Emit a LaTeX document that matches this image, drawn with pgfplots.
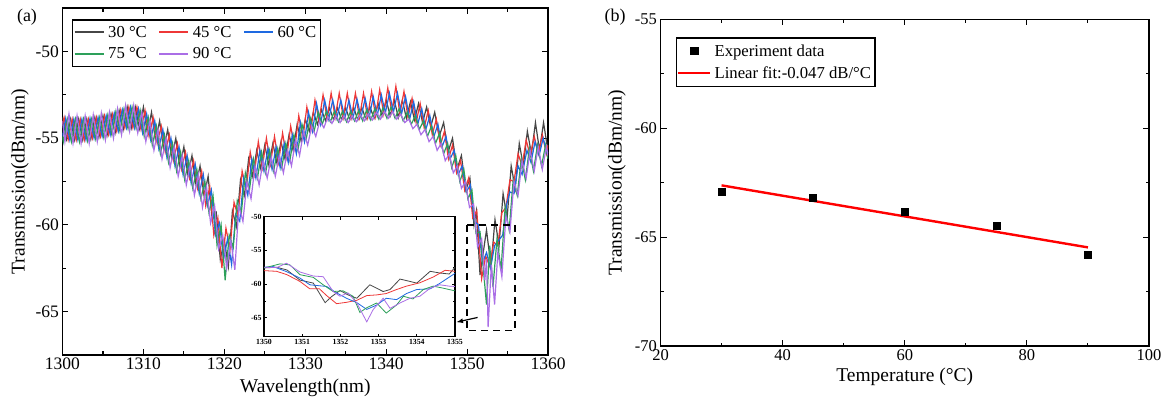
\documentclass[border=0pt]{standalone}
\usepackage{fontspec}
\setmainfont{Liberation Serif}
\usepackage{pgfplots}
\pgfplotsset{compat=1.18}
\definecolor{cgray}{RGB}{70,70,70}
\definecolor{cred}{RGB}{238,55,55}
\definecolor{cblue}{RGB}{30,105,225}
\definecolor{cgreen}{RGB}{45,160,90}
\definecolor{cpurple}{RGB}{170,110,230}
\begin{document}
\begin{tikzpicture}
\useasboundingbox (0pt,0pt) rectangle (1164pt,399pt);
\pgfplotsset{every axis/.append style={
  scale only axis,
  axis line style={line width=1.6pt},
  tick align=inside,
  tick style={line width=1.1pt, black},
  major tick length=6pt, minor tick length=3.5pt,
  /pgf/number format/assume math mode=true,
  /pgf/number format/1000 sep={},
}}
\node[font=\fontsize{18}{21}\selectfont] at (27pt,382pt) {(a)};
\node[font=\fontsize{18}{21}\selectfont] at (615pt,382pt) {(b)};
% ---------------- panel (a)
\begin{scope}[shift={(62.5pt,44.3pt)}]
\begin{axis}[at={(0pt,0pt)}, anchor=south west, width=485.5pt, height=346.4pt,
  xmin=1300, xmax=1360, ymin=-67.5, ymax=-47.5,
  xtick={1300,1310,...,1360}, minor x tick num=1,
  ytick={-65,-60,-55,-50}, minor y tick num=1,
  ticklabel style={font=\fontsize{17.5}{20}\selectfont},
  xlabel={Wavelength(nm)}, ylabel={Transmission(dBm/nm)},
  label style={font=\fontsize{19.5}{23}\selectfont},
  xlabel style={at={(axis description cs:0.5,-0.0953)}, anchor=center},
  ylabel style={at={(axis description cs:-0.0875,0.5)}, anchor=center},
  legend columns=3,
  legend cell align=left,
  legend image code/.code={\draw[#1, line width=2pt] (0pt,0pt) -- (29pt,0pt);},
  legend style={at={(axis description cs:0.0196,0.968)}, anchor=north west,
    draw=black, line width=1.3pt, inner xsep=1pt, inner ysep=1.5pt,
    font=\fontsize{16.7}{20}\selectfont,
    nodes={inner xsep=3.5pt, inner ysep=4.5pt},
    /tikz/every even column/.append style={column sep=8pt}},
]
\addplot[cgray, line width=1.2pt] table {
1300 -53.8
1300.5 -55.05
1301 -53.9
1301.5 -55.1
1302 -53.9
1302.5 -55.1
1303 -53.9
1303.5 -55.05
1304 -53.8
1304.5 -54.95
1305 -53.7
1305.5 -54.85
1306 -53.6
1306.5 -54.7
1307 -53.4
1307.5 -54.5
1308 -53.2
1308.5 -54.4
1309 -53.2
1309.5 -54.45
1310 -53.2
1310.5 -54.75
1311 -53.5
1311.5 -55.15
1312 -54.0
1312.5 -55.65
1313 -54.5
1313.5 -56.15
1314 -55.0
1314.5 -56.65
1315 -55.5
1315.5 -57.15
1316 -56.0
1316.5 -57.7
1317 -56.6
1317.5 -58.35
1318 -57.2
1318.5 -59.7
1319 -59.3
1319.5 -62.0
1320 -60.9
1320.5 -62.4
1321 -59.2
1321.5 -60.1
1322 -57.4
1322.5 -58.3
1323 -56.2
1323.5 -57.2
1324 -55.7
1324.5 -56.75
1325 -55.4
1325.5 -56.55
1326 -55.3
1326.5 -56.45
1327 -55.2
1327.5 -56.2
1328 -54.8
1328.5 -55.7
1329 -54.2
1329.5 -55.2
1330 -53.9
1330.5 -54.6
1331 -53.5
1331.5 -54.2
1332 -53.35
1332.5 -54.0
1333 -53.25
1333.5 -53.95
1334 -53.25
1334.5 -53.95
1335 -53.25
1335.5 -53.95
1336 -53.25
1336.5 -53.95
1337 -53.25
1337.5 -53.9
1338 -53.2
1338.5 -53.85
1339 -53.0
1339.5 -53.7
1340 -52.8
1340.5 -53.7
1341 -52.8
1341.5 -53.8
1342 -52.8
1342.5 -53.85
1343 -52.9
1343.5 -53.95
1344 -53.0
1344.5 -54.1
1345 -53.2
1345.5 -54.35
1346 -53.5
1346.55 -54.9
1347.1 -54.1
1347.65 -55.8
1348.2 -55.0
1348.75 -56.8
1349.3 -56.0
1349.85 -58.0
1350.35 -57.3
1350.85 -60.0
1351.15 -59.2
1351.6 -62.9
1352.4 -60.3
1352.95 -62.4
1353.45 -59.7
1353.95 -61.2
1354.45 -58.2
1354.95 -59.6
1355.45 -56.6
1355.95 -57.9
1356.45 -55.3
1356.95 -56.6
1357.45 -54.6
1357.95 -55.9
1358.45 -54.1
1358.95 -55.7
1359.45 -54.1
1359.95 -55.6
1360 -55.4
};
\addlegendentry{30 °C}
\addplot[cred, line width=1.2pt] table {
1300 -54.2
1300.2 -53.8
1300.7 -55.1
1301.2 -53.9
1301.7 -55.1
1302.2 -53.9
1302.7 -55.1
1303.2 -53.9
1303.7 -55.0
1304.2 -53.8
1304.7 -54.9
1305.2 -53.7
1305.7 -54.8
1306.2 -53.6
1306.7 -54.6
1307.2 -53.35
1307.7 -54.4
1308.2 -53.2
1308.7 -54.4
1309.2 -53.2
1309.7 -54.5
1310.2 -53.4
1310.7 -54.9
1311.2 -53.8
1311.7 -55.3
1312.2 -54.3
1312.7 -55.8
1313.2 -54.8
1313.7 -56.3
1314.2 -55.3
1314.7 -56.8
1315.2 -55.8
1315.7 -57.3
1316.2 -56.3
1316.7 -57.9
1317.2 -56.9
1317.7 -58.9
1318.2 -57.8
1318.7 -60.6
1319.2 -59.6
1319.7 -62.5
1320.2 -60.2
1320.7 -61.4
1321.2 -58.7
1321.7 -59.5
1322.2 -56.9
1322.7 -58.0
1323.2 -55.8
1323.7 -57.1
1324.2 -55.2
1324.7 -56.7
1325.2 -55.0
1325.7 -56.5
1326.2 -54.9
1326.7 -56.4
1327.2 -54.7
1327.7 -56.1
1328.2 -54.3
1328.7 -55.6
1329.2 -53.7
1329.7 -55.0
1330.2 -53.2
1330.7 -54.5
1331.2 -52.8
1331.7 -54.0
1332.2 -52.5
1332.7 -53.85
1333.2 -52.4
1333.7 -53.8
1334.2 -52.4
1334.7 -53.8
1335.2 -52.4
1335.7 -53.8
1336.2 -52.4
1336.7 -53.8
1337.2 -52.4
1337.7 -53.8
1338.2 -52.3
1338.7 -53.75
1339.2 -52.2
1339.7 -53.6
1340.2 -52.1
1340.7 -53.5
1341.2 -52.0
1341.7 -53.6
1342.2 -52.3
1342.7 -53.8
1343.2 -52.7
1343.7 -54.1
1344.2 -53.0
1344.7 -54.4
1345.2 -53.4
1345.7 -54.8
1346.2 -53.9
1346.7 -55.4
1347.2 -54.6
1347.7 -56.2
1348.2 -55.4
1348.7 -57.0
1349.2 -56.3
1349.7 -58.0
1350.2 -57.3
1350.7 -59.6
1351.2 -59.2
1351.8 -63.1
1352.3 -61.8
1352.8 -62.4
1353.3 -61.0
1353.8 -61.2
1354.3 -59.3
1354.8 -59.0
1355.3 -57.4
1355.8 -57.5
1356.3 -55.9
1356.8 -56.6
1357.3 -55.1
1357.8 -56.0
1358.3 -54.9
1358.8 -55.9
1359.3 -54.8
1359.8 -55.9
1360 -55.4
};
\addlegendentry{45 °C}
\addplot[cblue, line width=1.2pt] table {
1300 -54.9
1300.4 -53.85
1300.9 -55.1
1301.4 -53.9
1301.9 -55.1
1302.4 -53.9
1302.9 -55.1
1303.4 -53.85
1303.9 -55.0
1304.4 -53.8
1304.9 -54.9
1305.4 -53.7
1305.9 -54.8
1306.4 -53.55
1306.9 -54.6
1307.4 -53.35
1307.9 -54.4
1308.4 -53.2
1308.9 -54.4
1309.4 -53.3
1309.9 -54.7
1310.4 -53.6
1310.9 -55.1
1311.4 -54.0
1311.9 -55.6
1312.4 -54.5
1312.9 -56.1
1313.4 -55.0
1313.9 -56.6
1314.4 -55.5
1314.9 -57.1
1315.4 -56.0
1315.9 -57.6
1316.4 -56.5
1316.9 -58.2
1317.4 -57.1
1317.9 -58.9
1318.4 -58.0
1318.9 -60.6
1319.4 -59.9
1319.9 -62.0
1320.4 -60.8
1320.9 -62.3
1321.4 -59.4
1321.9 -59.8
1322.4 -57.3
1322.9 -58.3
1323.4 -56.2
1323.9 -57.3
1324.4 -55.7
1324.9 -56.9
1325.4 -55.6
1325.9 -56.8
1326.4 -55.5
1326.9 -56.7
1327.4 -55.3
1327.9 -56.4
1328.4 -54.8
1328.9 -55.9
1329.4 -54.1
1329.9 -55.2
1330.4 -53.5
1330.9 -54.6
1331.4 -53.0
1331.9 -54.2
1332.4 -52.8
1332.9 -53.9
1333.4 -52.8
1333.9 -53.85
1334.4 -52.8
1334.9 -53.85
1335.4 -52.8
1335.9 -53.85
1336.4 -52.75
1336.9 -53.8
1337.4 -52.7
1337.9 -53.8
1338.4 -52.6
1338.9 -53.7
1339.4 -52.5
1339.9 -53.55
1340.4 -52.4
1340.9 -53.5
1341.4 -52.4
1341.9 -53.6
1342.4 -52.6
1342.9 -53.9
1343.4 -52.9
1343.9 -54.2
1344.4 -53.3
1344.9 -54.5
1345.4 -53.7
1345.9 -54.9
1346.4 -54.2
1346.9 -55.5
1347.4 -54.9
1347.9 -56.2
1348.4 -55.7
1348.9 -57.1
1349.4 -56.6
1349.9 -58.1
1350.4 -57.7
1350.9 -59.8
1351.4 -60.0
1351.9 -62.2
1352.4 -61.6
1352.9 -62.5
1353.4 -61.2
1353.9 -60.9
1354.4 -60.6
1354.9 -58.8
1355.3 -58.1
1355.8 -58.2
1356.3 -56.6
1356.8 -57.1
1357.4 -55.7
1357.9 -56.4
1358.4 -55.2
1358.9 -56.0
1359.4 -55.0
1359.9 -55.9
1360 -55.7
};
\addlegendentry{60 °C}
\addplot[cgreen, line width=1.2pt] table {
1300 -54.9
1300.1 -55.2
1300.6 -53.9
1301.1 -55.2
1301.6 -53.9
1302.1 -55.2
1302.6 -53.9
1303.1 -55.15
1303.6 -53.9
1304.1 -55.05
1304.6 -53.8
1305.1 -54.95
1305.6 -53.65
1306.1 -54.8
1306.6 -53.45
1307.1 -54.6
1307.6 -53.3
1308.1 -54.45
1308.6 -53.2
1309.1 -54.45
1309.6 -53.4
1310.1 -54.9
1310.6 -53.8
1311.1 -55.4
1311.6 -54.3
1312.1 -55.9
1312.6 -54.8
1313.1 -56.4
1313.6 -55.3
1314.1 -56.9
1314.6 -55.8
1315.1 -57.4
1315.6 -56.3
1316.1 -57.9
1316.6 -56.8
1317.1 -58.5
1317.6 -57.5
1318.1 -59.3
1318.6 -58.3
1319.1 -61.2
1319.6 -60.0
1320.1 -63.2
1320.6 -60.6
1321.1 -61.3
1321.6 -58.6
1322.1 -59.3
1322.6 -57.0
1323.1 -58.0
1323.6 -56.2
1324.1 -57.3
1324.6 -55.8
1325.1 -57.0
1325.6 -55.7
1326.1 -56.9
1326.6 -55.6
1327.1 -56.7
1327.6 -55.3
1328.1 -56.3
1328.6 -54.8
1329.1 -55.7
1329.6 -54.2
1330.1 -55.1
1330.6 -53.8
1331.1 -54.6
1331.6 -53.5
1332.1 -54.2
1332.6 -53.45
1333.1 -54.05
1333.6 -53.45
1334.1 -54.05
1334.6 -53.45
1335.1 -54.05
1335.6 -53.45
1336.1 -54.0
1336.6 -53.4
1337.1 -54.0
1337.6 -53.35
1338.1 -53.95
1338.6 -53.3
1339.1 -53.9
1339.6 -53.25
1340.1 -53.85
1340.6 -53.2
1341.1 -53.85
1341.6 -53.3
1342.1 -54.0
1342.6 -53.5
1343.1 -54.2
1343.6 -53.7
1344.1 -54.5
1344.6 -54.0
1345.1 -54.9
1345.6 -54.3
1346.1 -55.3
1346.6 -54.7
1347.1 -55.9
1347.6 -55.3
1348.1 -56.7
1348.6 -56.0
1349.1 -57.5
1349.6 -56.8
1350.1 -58.5
1350.6 -58.0
1351.1 -60.5
1351.6 -60.4
1352.4 -64.6
1352.8 -61.2
1353.2 -63.6
1353.7 -60.8
1354.2 -62.6
1354.7 -59.0
1355.2 -60.3
1355.7 -57.4
1356.2 -58.3
1356.7 -56.2
1357.2 -57.4
1357.7 -55.6
1358.2 -56.9
1358.7 -55.4
1359.2 -56.6
1359.7 -55.4
1360 -56.2
};
\addlegendentry{75 °C}
\addplot[cpurple, line width=1.2pt] table {
1300 -54.0
1300.3 -55.2
1300.8 -53.6
1301.3 -55.3
1301.8 -53.7
1302.3 -55.3
1302.8 -53.7
1303.3 -55.3
1303.8 -53.65
1304.3 -55.2
1304.8 -53.55
1305.3 -55.1
1305.8 -53.5
1306.3 -55.0
1306.8 -53.3
1307.3 -54.8
1307.8 -53.1
1308.3 -54.6
1308.8 -53.1
1309.3 -54.7
1309.8 -53.5
1310.3 -55.2
1310.8 -54.0
1311.3 -55.7
1311.8 -54.5
1312.3 -56.2
1312.8 -55.0
1313.3 -56.7
1313.8 -55.5
1314.3 -57.2
1314.8 -56.0
1315.3 -57.7
1315.8 -56.5
1316.3 -58.3
1316.8 -57.1
1317.3 -59.0
1317.8 -57.8
1318.3 -59.9
1318.8 -58.9
1319.3 -61.4
1319.8 -60.6
1320.3 -62.5
1320.8 -60.9
1321.3 -62.6
1321.8 -58.9
1322.3 -59.8
1322.8 -57.5
1323.3 -58.5
1323.8 -56.6
1324.3 -57.7
1324.8 -56.3
1325.3 -57.3
1325.8 -56.1
1326.3 -57.2
1326.8 -56.0
1327.3 -57.0
1327.8 -55.7
1328.3 -56.6
1328.8 -55.1
1329.3 -56.0
1329.8 -54.6
1330.3 -55.4
1330.8 -54.3
1331.3 -54.9
1331.8 -54.0
1332.3 -54.4
1332.8 -53.75
1333.3 -54.15
1333.8 -53.7
1334.3 -54.1
1334.8 -53.7
1335.3 -54.1
1335.8 -53.7
1336.3 -54.05
1336.8 -53.65
1337.3 -54.0
1337.8 -53.6
1338.3 -53.95
1338.8 -53.5
1339.3 -53.9
1339.8 -53.45
1340.3 -53.85
1340.8 -53.45
1341.3 -53.9
1341.8 -53.6
1342.3 -54.1
1342.8 -53.9
1343.3 -54.45
1343.8 -54.2
1344.3 -54.8
1344.8 -54.5
1345.3 -55.2
1345.8 -54.9
1346.3 -55.7
1346.8 -55.3
1347.3 -56.3
1347.8 -55.9
1348.3 -57.0
1348.8 -56.6
1349.3 -57.9
1349.8 -57.5
1350.3 -59.0
1350.8 -58.8
1351.3 -61.3
1351.8 -60.8
1352.2 -63.2
1352.4 -62.0
1352.6 -65.9
1353.0 -62.3
1353.4 -64.6
1353.8 -61.6
1354.3 -63.0
1354.8 -59.5
1355.3 -60.4
1355.8 -57.5
1356.3 -58.3
1356.8 -56.3
1357.3 -57.3
1357.8 -55.7
1358.3 -56.9
1358.8 -55.5
1359.3 -56.8
1359.8 -55.5
1360 -56.0
};
\addlegendentry{90 °C}
\draw[black, line width=1.5pt, dash pattern=on 7pt off 5pt] (axis cs:1350,-60) rectangle (axis cs:1355.9,-66.1);
\coordinate (arrS) at (axis cs:1351.3,-65.35);
\coordinate (arrE) at (axis cs:1348.7,-65.62);
\end{axis}
\end{scope}
% ---------------- inset
\begin{scope}[shift={(264pt,62.3pt)}]
\begin{axis}[at={(0pt,0pt)}, anchor=south west, width=191pt, height=120pt,
  axis background/.style={fill=white},
  axis line style={line width=1.3pt},
  major tick length=3pt, minor tick length=2pt,
  tick style={line width=0.8pt},
  xmin=1350, xmax=1355, ymin=-67.8, ymax=-50,
  xtick={1350,1351,...,1355},
  ytick={-65,-60,-55,-50}, minor y tick num=1,
  ticklabel style={font=\fontsize{7.8}{9}\selectfont\bfseries},
  xticklabel style={yshift=1pt},
  yticklabel style={xshift=1pt},
]
\addplot[cgray, line width=0.8pt] table {
1350 -57.6
1350.33 -57.5
1350.6 -57.9
1350.94 -59.4
1351.29 -59.85
1351.6 -62.75
1351.77 -61.85
1351.99 -60.95
1352.2 -61.6
1352.43 -62.1
1352.77 -60.1
1353.12 -61.1
1353.3 -60.8
1353.56 -59.25
1353.82 -59.6
1354.0 -59.85
1354.35 -58.1
1354.6 -58.35
1354.85 -58.5
1355 -57.5
};
\addplot[cred, line width=0.8pt] table {
1350 -58.0
1350.33 -58.1
1350.6 -58.6
1350.94 -59.6
1351.2 -60.7
1351.45 -60.7
1351.64 -61.7
1351.9 -62.9
1352.16 -62.7
1352.43 -62.4
1352.69 -61.7
1352.95 -61.6
1353.2 -61.4
1353.47 -60.8
1353.73 -60.3
1354.08 -59.8
1354.43 -58.95
1354.74 -57.95
1355 -58.1
};
\addplot[cblue, line width=0.8pt] table {
1350 -57.5
1350.24 -57.4
1350.59 -58.15
1350.94 -59.1
1351.2 -60.1
1351.64 -60.35
1351.9 -61.3
1352.16 -62.1
1352.43 -62.75
1352.69 -63.75
1352.95 -63.1
1353.2 -62.1
1353.47 -62.3
1353.73 -61.4
1354.0 -60.8
1354.35 -60.7
1354.6 -59.9
1355 -58.4
};
\addplot[cgreen, line width=0.8pt] table {
1350 -57.6
1350.42 -57.0
1350.68 -57.15
1350.94 -58.6
1351.29 -59.0
1351.55 -60.1
1351.81 -61.1
1352.07 -61.0
1352.33 -61.8
1352.51 -64.2
1352.69 -63.5
1352.95 -62.8
1353.2 -64.3
1353.47 -63.1
1353.65 -61.8
1353.9 -62.2
1354.17 -60.8
1354.43 -60.3
1354.69 -60.6
1355 -61.0
};
\addplot[cpurple, line width=0.8pt] table {
1350 -57.5
1350.33 -57.55
1350.59 -56.9
1350.94 -58.2
1351.29 -58.8
1351.55 -58.9
1351.81 -61.1
1351.99 -61.8
1352.2 -61.3
1352.43 -62.8
1352.69 -65.6
1352.86 -63.75
1353.12 -62.1
1353.3 -63.6
1353.56 -62.8
1353.82 -62.1
1354.08 -61.8
1354.35 -60.6
1354.6 -60.1
1354.85 -60.3
1355 -60.35
};
\end{axis}
\end{scope}
\draw[-latex, line width=1.2pt] (arrS) -- (arrE);
% ---------------- panel (b)
\begin{scope}[shift={(660.5pt,53pt)}]
\begin{axis}[at={(0pt,0pt)}, anchor=south west, width=488.5pt, height=326.5pt,
  xmin=20, xmax=100, ymin=-70, ymax=-55,
  xtick={20,40,...,100}, minor x tick num=1,
  ytick={-70,-65,-60,-55}, minor y tick num=1,
  ticklabel style={font=\fontsize{16.5}{19}\selectfont},
  xlabel={Temperature (°C)}, ylabel={Transmission(dBm/nm)},
  label style={font=\fontsize{19.5}{23}\selectfont},
  xlabel style={at={(axis description cs:0.5,-0.095)}, anchor=center},
  ylabel style={at={(axis description cs:-0.089,0.5)}, anchor=center},
  legend cell align=left,
  legend image code/.code={\draw[#1] (0pt,0pt) -- (32pt,0pt);},
  legend style={at={(axis description cs:0.0307,0.9455)}, anchor=north west,
    draw=black, line width=1.3pt, inner xsep=1pt, inner ysep=2pt,
    font=\fontsize{16.7}{20}\selectfont,
    nodes={inner xsep=3pt, inner ysep=4.5pt}},
]
\addplot[only marks, mark=square*, mark size=3.5pt, black,
  legend image code/.code={\draw[black, fill=black] (12.5pt,-3.5pt) rectangle (19.5pt,3.5pt);}] table {
30 -62.91
45 -63.17
60 -63.84
75 -64.49
90 -65.82
};
\addlegendentry{Experiment data}
\addplot[red, line width=2.4pt, no marks] table {
30 -62.62
90 -65.47
};
\addlegendentry{Linear fit:-0.047 dB/°C}
\end{axis}
\end{scope}
\end{tikzpicture}
\end{document}
